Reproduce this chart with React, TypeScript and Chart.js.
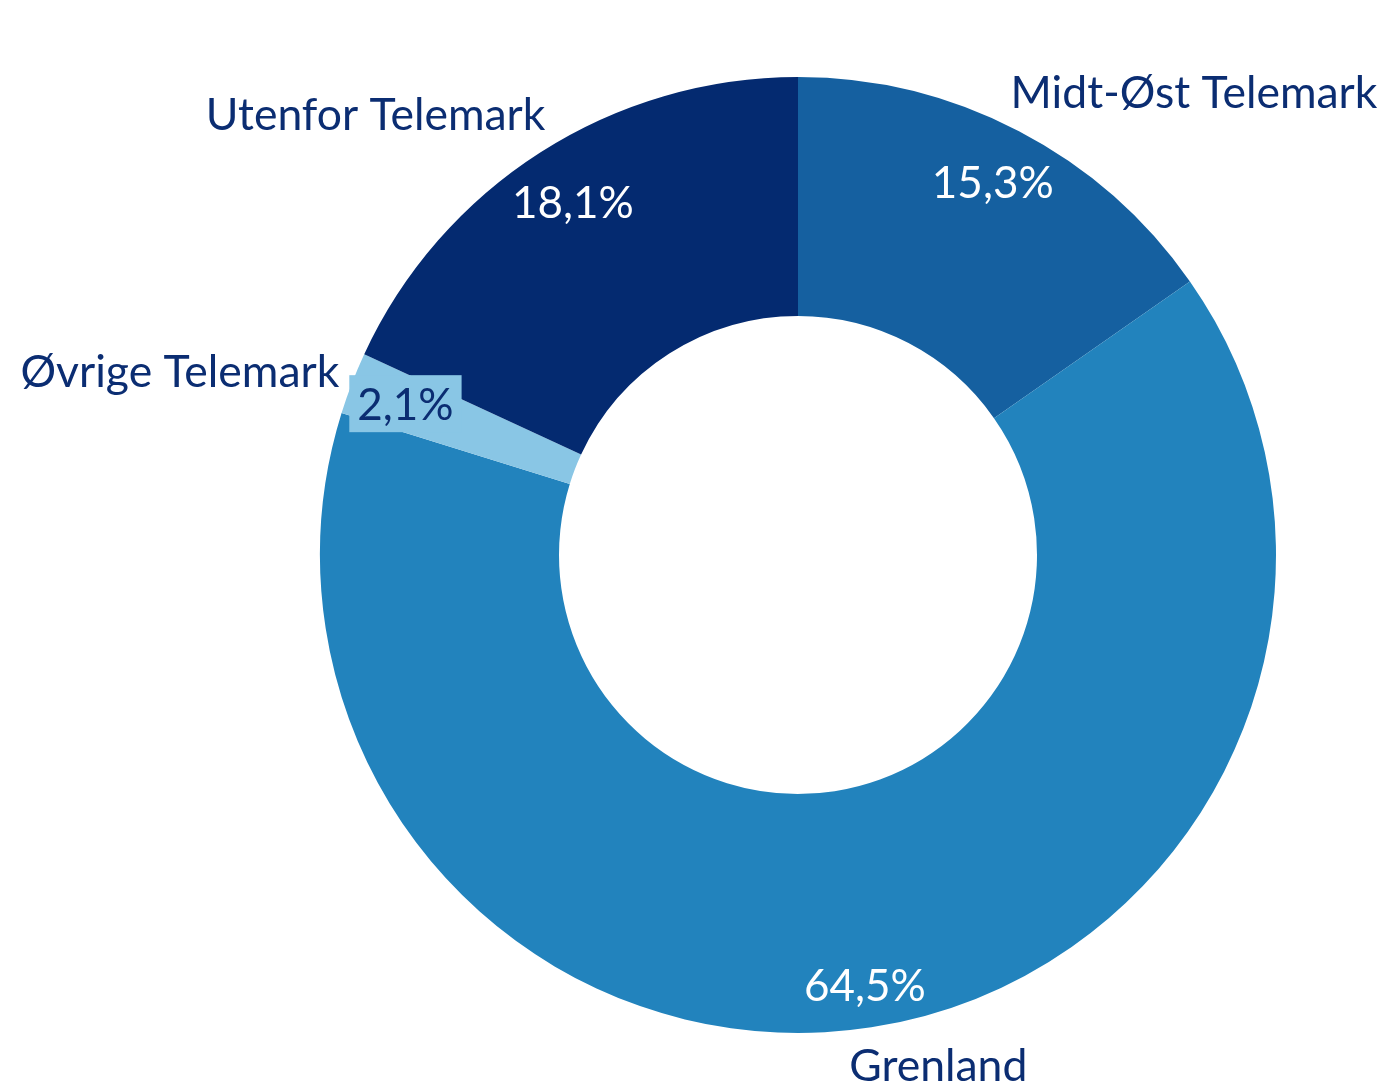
import React, { useEffect, useRef } from "react";
import { Chart, registerables } from "chart.js";

Chart.register(...registerables);

const categories = ["Midt-Øst Telemark", "Grenland", "Øvrige Telemark", "Utenfor Telemark"];
const shares = [15.3, 64.5, 2.1, 18.1];
const percentLabels = ["15,3%", "64,5%", "2,1%", "18,1%"];
const colors = ["#1560a0", "#2283bd", "#89c6e5", "#042a70"];

const FONT = "Lato";
const TEXT_DARK = "#0b2d72";

// label placement offsets relative to arc geometry (px)
const pctOffsets = [
  [29, -39],
  [12, 92],
  [-58, -6],
  [-32, -35],
];
const catOffsets = [
  [175, -23],
  [67, 54],
  [-172, 4],
  [-165, -22],
];
const pctBoxed = [false, false, true, false];

const labelPlugin = {
  id: "donutLabels",
  afterDatasetsDraw(chart: any) {
    const ctx = chart.ctx;
    const meta = chart.getDatasetMeta(0);
    ctx.save();
    ctx.textAlign = "center";
    ctx.textBaseline = "alphabetic";
    meta.data.forEach((arc: any, i: number) => {
      const { x, y, startAngle, endAngle, innerRadius, outerRadius } = arc.getProps(
        ["x", "y", "startAngle", "endAngle", "innerRadius", "outerRadius"],
        true
      );
      const mid = (startAngle + endAngle) / 2;
      const rMid = (innerRadius + outerRadius) / 2;
      const px = x + Math.cos(mid) * rMid + pctOffsets[i][0];
      const py = y + Math.sin(mid) * rMid + pctOffsets[i][1];
      ctx.font = `44px ${FONT}`;
      if (pctBoxed[i]) {
        const w = ctx.measureText(percentLabels[i]).width;
        ctx.fillStyle = colors[i];
        ctx.fillRect(px - w / 2 - 8, py - 45, w + 16, 57);
        ctx.fillStyle = TEXT_DARK;
      } else {
        ctx.fillStyle = "#ffffff";
      }
      ctx.fillText(percentLabels[i], px, py);

      const cx = x + Math.cos(mid) * outerRadius + catOffsets[i][0];
      const cy = y + Math.sin(mid) * outerRadius + catOffsets[i][1];
      ctx.fillStyle = TEXT_DARK;
      ctx.font = `44.5px ${FONT}`;
      ctx.fillText(categories[i], cx, cy);
    });
    ctx.restore();
  },
};

export default function App() {
  const ref = useRef<HTMLCanvasElement | null>(null);
  useEffect(() => {
    if (!ref.current) return;
    const chart = new Chart(ref.current, {
      type: "doughnut",
      data: {
        labels: categories,
        datasets: [
          {
            data: shares,
            backgroundColor: colors,
            borderWidth: 0,
            hoverOffset: 0,
          },
        ],
      },
      options: {
        animation: false,
        responsive: true,
        maintainAspectRatio: false,
        cutout: "50%",
        rotation: 0,
        layout: { padding: { left: 320, right: 104, top: 77, bottom: 56 } },
        plugins: {
          legend: { display: false },
          tooltip: { enabled: false },
        },
      },
      plugins: [labelPlugin],
    });
    return () => chart.destroy();
  }, []);
  return (
    <div style={{ position: "absolute", left: 0, top: 0, width: 1380, height: 1089, background: "#fff" }}>
      <canvas ref={ref} />
    </div>
  );
}
